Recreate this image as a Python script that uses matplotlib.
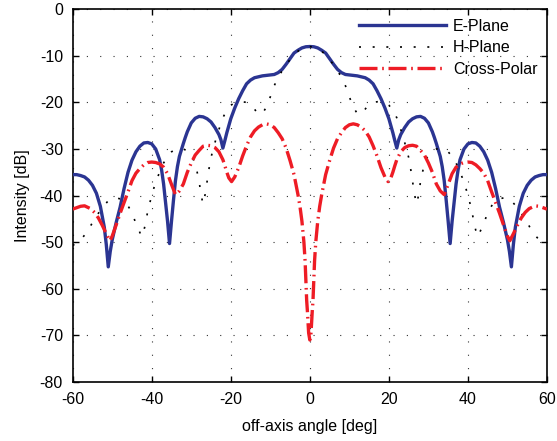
import matplotlib
matplotlib.use("Agg")
import matplotlib.pyplot as plt

plt.rcParams['font.family'] = ['Liberation Sans', 'DejaVu Sans']
plt.rcParams['axes.unicode_minus'] = False

# ---------------- data ----------------
e_angle = [-60, -59, -58, -57, -56, -55, -54, -53, -52.5, -52, -51.5, -51, -50.5, -50, -49, -48, -47, -46,
           -45, -44, -43, -42, -41, -40, -39, -38, -37.5, -37, -36.5, -36, -35.5, -35, -34.5, -34, -33.5,
           -33, -32, -31.5, -31, -30, -29, -28, -27, -26, -25, -24, -23, -22.5, -22, -21.5, -21, -20, -19,
           -18, -17, -16, -15, -14, -13, -12, -11, -10, -9, -8, -7, -6, -5, -4, -3, -2, -1,
           0, 1, 2, 3, 4, 5, 6, 7, 8, 9, 10, 11, 12, 13, 14, 15, 16, 17, 18, 19, 20, 21, 21.5, 22, 22.5,
           23, 24, 25, 26, 27, 28, 29, 30, 31, 31.5, 32, 33, 33.5, 34, 34.5, 35, 35.5, 36, 36.5, 37, 37.5,
           38, 39, 40, 41, 42, 43, 44, 45, 46, 47, 48, 49, 50, 50.5, 51, 51.5, 52, 52.5, 53, 54, 55, 56,
           57, 58, 59, 60]
e_db = [-35.5, -35.5, -35.7, -36.0, -36.7, -37.8, -39.5, -42.3, -44.5, -46.8, -50.5, -55.3, -52.0, -49.5,
        -45.8, -42.5, -38.5, -35.0, -32.4, -30.6, -29.4, -28.7, -28.6, -28.9, -30.0, -32.3, -34.5, -37.5,
        -41.6, -45.5, -50.3, -45.5, -41.0, -36.8, -33.8, -31.6, -28.8, -27.5, -26.3, -24.4, -23.4, -23.0,
        -23.1, -23.5, -24.2, -25.4, -26.9, -28.0, -29.8, -28.2, -26.5, -23.5, -21.2, -19.2, -17.5, -16.0,
        -15.2, -14.7, -14.5, -14.3, -14.2, -14.1, -14.0, -13.6, -12.9, -11.8, -10.6, -9.4, -8.8, -8.3, -8.05,
        -8.0,
        -8.05, -8.3, -8.8, -9.4, -10.6, -11.8, -12.9, -13.6, -14.0, -14.1, -14.2, -14.3, -14.5, -14.7, -15.2,
        -16.0, -17.5, -19.2, -21.2, -23.5, -26.5, -28.2, -29.8, -28.0, -26.9, -25.4, -24.2, -23.5, -23.1,
        -23.0, -23.4, -24.4, -26.3, -27.5, -28.8, -31.6, -33.8, -36.8, -41.0, -45.5, -50.3, -45.5, -41.6,
        -37.5, -34.5, -32.3, -30.0, -28.9, -28.6, -28.7, -29.4, -30.6, -32.4, -35.0, -38.5, -42.5, -45.8,
        -49.5, -52.0, -55.3, -50.5, -46.8, -44.5, -42.3, -39.5, -37.8, -36.7, -36.0, -35.7, -35.5, -35.5]

h_angle = [-60, -59, -58, -57, -56, -55, -54, -53, -52, -51, -50, -49, -48, -47, -46, -45, -44,
           -43.2, -42.6, -42, -41.5, -41, -40, -39, -38, -37, -36, -35, -34, -33, -32, -31, -30,
           -29, -28.5, -28, -27.5, -27, -26.5, -26, -25.5, -25, -24, -23, -22, -21, -20,
           -19, -17.5, -16, -14.5, -13.5, -12.7, -12, -11, -10, -9, -8, -7, -6, -5, -4, -3, -2, -1,
           0, 1, 2, 3, 4, 5, 6, 7, 8, 9, 10, 11, 12, 12.7, 13.5, 14.5, 16, 17.5, 19,
           20, 21, 22, 23, 24, 25, 25.5, 26, 26.5, 27, 27.5, 28, 28.5, 29,
           30, 31, 32, 33, 34, 35, 36, 37, 38, 39, 40, 41, 41.5, 42, 42.6, 43.2,
           44, 45, 46, 47, 48, 49, 50, 51, 52, 53, 54, 55, 56, 57, 58, 59, 60]
h_db = [-50.7, -50.2, -49.5, -48.5, -47.3, -45.8, -44.4, -43.2, -42.1, -41.1, -40.6, -40.5, -40.7, -41.2,
        -42.2, -43.7, -46.0, -47.5, -48.8, -47.5, -45.8, -43.2, -40.0, -37.0, -35.0, -33.0, -31.6, -30.6,
        -30.1, -29.9, -30.0, -30.4, -31.2, -33.2, -35.0, -37.0, -40.0, -41.8, -39.8, -37.0, -34.2, -31.8,
        -28.6, -25.8, -23.3, -21.6, -20.6, -20.1, -19.8, -20.0, -20.9, -22.0, -22.6, -22.4, -21.0, -18.8,
        -16.4, -14.6, -13.2, -11.9, -10.8, -9.8, -9.0, -8.4, -8.1,
        -8.0,
        -8.1, -8.4, -9.0, -9.8, -10.8, -11.9, -13.2, -14.6, -16.4, -18.8, -21.0, -22.4, -22.6, -22.0, -20.9,
        -20.0, -19.8, -20.1, -20.6, -21.6, -23.3, -25.8, -28.6, -31.8, -34.2, -37.0, -39.8, -41.8, -40.0,
        -37.0, -35.0, -33.2, -31.2, -30.4, -30.0, -29.9, -30.1, -30.6, -31.6, -33.0, -35.0, -37.0, -40.0,
        -43.2, -45.8, -47.5, -48.8, -47.5, -46.0, -43.7, -42.2, -41.2, -40.7, -40.5, -40.6, -41.1, -42.1,
        -43.2, -44.4, -45.8, -47.3, -48.5, -49.5, -50.2, -50.7]

x_angle = [-60, -59, -58, -57, -55.5, -54.5, -53.5, -52.5, -51.5, -50.6, -50, -49, -48, -47, -46, -45,
           -44, -43, -42, -41, -40, -39, -38, -37, -36, -35, -34, -33, -32, -31, -30, -29, -28, -27, -26,
           -25, -24, -23, -22, -21.5, -21, -20.5, -19.8, -19, -18, -17, -16, -15, -14, -13, -12, -11, -10,
           -9, -8, -7, -6, -5, -4, -3, -2.5, -2.0, -1.5, -1.2, -1.0, -0.8, -0.6, -0.3,
           0, 0.3, 0.6, 0.8, 1.0, 1.2, 1.5, 2.0, 2.5, 3, 4, 5, 6, 7, 8, 9, 10, 11, 12, 13, 14, 15, 16,
           17, 18, 19, 19.8, 20.5, 21, 21.5, 22, 23, 24, 25, 26, 27, 28, 29, 30, 31, 32, 33, 34, 35, 36,
           37, 38, 39, 40, 41, 42, 43, 44, 45, 46, 47, 48, 49, 50, 50.6, 51.5, 52.5, 53.5, 54.5, 55.5,
           57, 58, 59, 60]
x_db = [-42.9, -42.6, -42.3, -42.2, -42.8, -43.6, -44.8, -46.4, -48.2, -49.7, -48.7, -46.3, -43.8, -41.5,
        -39.2, -36.8, -35.2, -34.2, -33.4, -32.9, -32.8, -32.9, -33.2, -33.9, -35.3, -37.6, -39.8, -39.0,
        -37.5, -35.0, -33.0, -31.3, -30.3, -29.4, -29.2, -29.3, -29.7, -30.6, -32.3, -33.6, -35.0, -36.2,
        -37.0, -36.0, -34.0, -31.5, -29.3, -27.4, -26.1, -25.3, -24.8, -24.6, -24.8, -25.4, -26.5, -27.8,
        -29.8, -32.5, -35.5, -39.8, -42.3, -45.5, -50.0, -54.0, -58.0, -62.5, -65.0, -69.5,
        -71.0,
        -69.5, -65.0, -62.5, -58.0, -54.0, -50.0, -45.5, -42.3, -39.8, -35.5, -32.5, -29.8, -27.8, -26.5,
        -25.4, -24.8, -24.6, -24.8, -25.3, -26.1, -27.4, -29.3, -31.5, -34.0, -36.0, -37.0, -36.2, -35.0,
        -33.6, -32.3, -30.6, -29.7, -29.3, -29.2, -29.4, -30.3, -31.3, -33.0, -35.0, -37.5, -39.0, -39.8,
        -37.6, -35.3, -33.9, -33.2, -32.9, -32.8, -32.9, -33.4, -34.2, -35.2, -36.8, -39.2, -41.5, -43.8,
        -46.3, -48.7, -49.7, -48.2, -46.4, -44.8, -43.6, -42.8, -42.2, -42.3, -42.6, -42.9]

series_labels = ['E-Plane', 'H-Plane', 'Cross-Polar']
x_ticks = [-60, -40, -20, 0, 20, 40, 60]
y_ticks = [0, -10, -20, -30, -40, -50, -60, -70, -80]

# ---------------- figure ----------------
fig = plt.figure(figsize=(5.57, 4.41), dpi=100)
ax = fig.add_axes([0.1305, 0.134, 0.8515, 0.845])

ax.plot(e_angle, e_db, color='#2B3592', lw=2.4, solid_joinstyle='round', label=series_labels[0], zorder=3)
ax.plot(h_angle, h_db, color='black', lw=1.2, dashes=(1.2, 7.0), label=series_labels[1], zorder=3)
ax.plot(x_angle, x_db, color='#EE1C25', lw=2.4, dashes=(5.4, 1.4, 0.5, 1.4), label=series_labels[2], zorder=4)

ax.set_xlim(-60, 60)
ax.set_ylim(-80, 0)
ax.set_xticks(x_ticks)
ax.set_yticks(y_ticks)
ax.grid(True, color='#333333', lw=0.8, dashes=(1, 11))
ax.tick_params(direction='in', top=True, right=True, length=4, width=1, labelsize=11.5, pad=7)
for s in ax.spines.values():
    s.set_linewidth(1.2)

ax.set_xlabel('off-axis angle [deg]', fontsize=11.5, labelpad=9)
ax.set_ylabel('Intensity [dB]', fontsize=11.5, labelpad=7)

ax.legend(loc='upper right', frameon=False, fontsize=11.5, handlelength=5.4, handletextpad=0.45,
          labelspacing=0.4, bbox_to_anchor=(1.0, 1.0), borderaxespad=0.2)

fig.savefig('out.png', dpi=100)
